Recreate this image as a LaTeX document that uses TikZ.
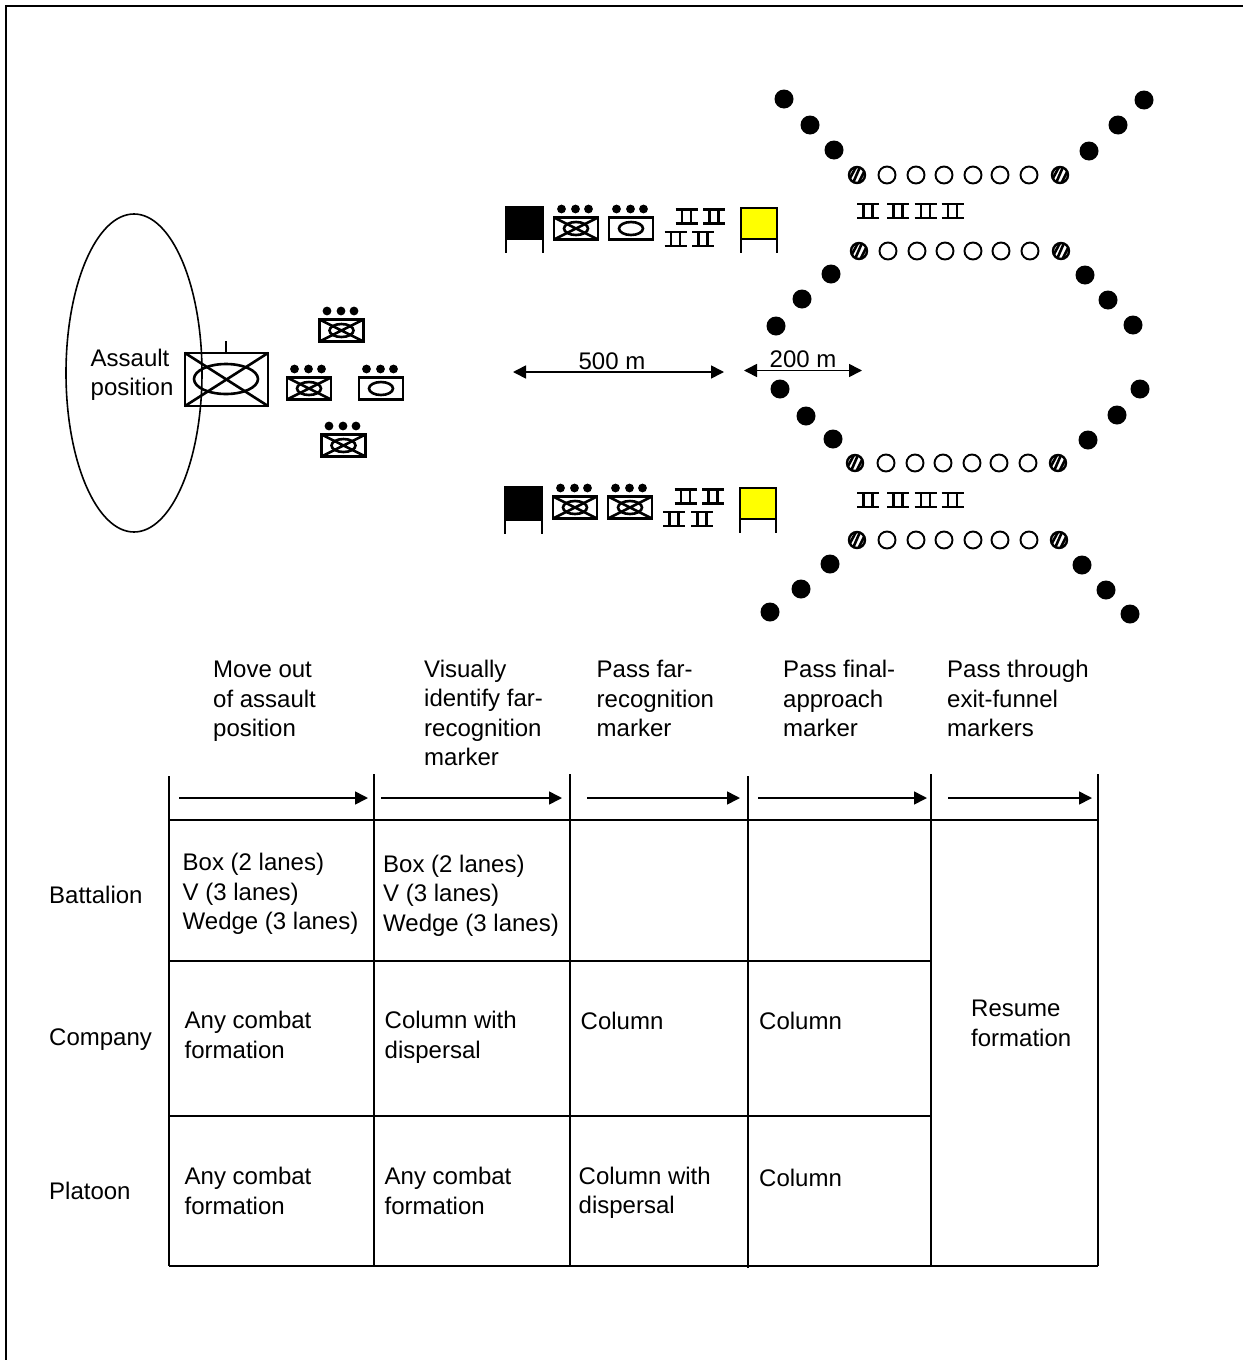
\documentclass[tikz,border=0pt]{standalone}
\usepackage{fontspec}
\setmainfont{Liberation Sans}
\usetikzlibrary{arrows.meta}
\definecolor{markeryellow}{RGB}{255,255,0}
\tikzset{
  lbl/.style={anchor=west,align=left,inner sep=0pt,font=\fontsize{24}{29.5}\selectfont},
  sym/.style={line width=2.6pt,draw=black},
  dim/.style={line width=1.6pt,{Triangle[length=13pt,width=13pt]}-{Triangle[length=13pt,width=13pt]}},
  flow/.style={line width=1.6pt,-{Triangle[length=13pt,width=13pt]}},
  rule/.style={line width=2.2pt,draw=black}
}
\newcommand{\lab}[4]{\node[lbl] (#1) at (#2,#3) {#4};}
\newcommand{\dotsrow}[2]{\foreach \dx in {-14.5,-0.5,12.5}{\fill (#1+\dx,#2-19.5) circle (4.4);}}
\newcommand{\tankx}[2]{%
  \draw[sym] (#1-22,#2-11) rectangle (#1+22,#2+11);
  \draw[sym] (#1-22,#2-11) -- (#1+22,#2+11) (#1-22,#2+11) -- (#1+22,#2-11);
  \draw[sym] (#1,#2) ellipse (12 and 6.5);
  \dotsrow{#1}{#2}}
\newcommand{\tankp}[2]{%
  \draw[sym] (#1-22,#2-11) rectangle (#1+22,#2+11);
  \draw[sym] (#1,#2) ellipse (12 and 6.5);
  \dotsrow{#1}{#2}}
\newcommand{\pii}[2]{%
  \draw[sym] (#1-11,#2-7) -- (#1+11,#2-7) (#1-11,#2+7) -- (#1+11,#2+7)
    (#1-4.5,#2-7) -- (#1-4.5,#2+7) (#1+4.5,#2-7) -- (#1+4.5,#2+7);}
\newcommand{\marker}[6]{%
  \draw[sym,fill=#1] (#2,#3) rectangle (#4,#5);
  \draw[sym] (#2,#5) -- (#2,#6) (#4,#5) -- (#4,#6);}
\newcommand{\hatched}[2]{%
  \begin{scope}
    \clip (#1,#2) circle (8.6);
    \draw[line width=2.6pt] (#1-8,#2+5) -- (#1-1,#2-8) (#1-4,#2+8) -- (#1+3,#2-8) (#1+1,#2+9) -- (#1+8,#2-5);
  \end{scope}
  \draw[line width=2.4pt] (#1,#2) circle (8);}
\newcommand{\ring}[2]{\draw[line width=1.9pt] (#1,#2) circle (8.5);}
\newcommand{\lanerow}[9]{%
  \hatched{#2}{#1}\ring{#3}{#1}\ring{#4}{#1}\ring{#5}{#1}\ring{#6}{#1}\ring{#7}{#1}\ring{#8}{#1}\hatched{#9}{#1}}
\begin{document}
\begin{tikzpicture}[x=1pt,y=-1pt]
\useasboundingbox (0,0) rectangle (1243,1360);
% frame
\coordinate (fa) at (6,1360); \coordinate (fb) at (6,6); \coordinate (fc) at (1243,6);
\draw[line width=1.8pt] (fa) -- (fb) -- (fc);
% assault position
\draw[line width=1.6pt] (134,373) ellipse (68 and 159);
\lab{assault}{90.5}{375}{Assault\\position}
\draw[sym] (185,353) rectangle (268,406);
\draw[sym] (185,353) -- (268,406) (185,406) -- (268,353);
\draw[sym] (226,379) ellipse (32 and 15);
\draw[sym] (226,341) -- (226,353);
\tankx{341.5}{330.5}
\tankx{309}{388.5}
\tankp{381}{388.5}
\tankx{343.5}{445.5}
% top column
\marker{black}{506}{207}{543}{239}{253}
\tankx{576}{228.5}
\tankp{631}{228.5}
\pii{686.5}{216.5}\pii{714}{216.5}\pii{675.5}{239}\pii{703}{239}
\marker{markeryellow}{741}{208}{777}{239}{253}
% bottom column
\marker{black}{505}{487}{542}{520}{534}
\tankx{575}{507.5}
\tankx{630}{507.5}
\pii{685.5}{496.5}\pii{713}{496.5}\pii{674}{519}\pii{702}{519}
\marker{markeryellow}{740}{488}{776}{519}{533}
% lanes
\lanerow{175}{857}{887}{916}{944}{973}{1000}{1029}{1060}
\lanerow{251}{859}{888}{917}{945}{973}{1001}{1030}{1061}
\lanerow{463}{855}{886}{915}{943}{972}{999}{1028}{1058}
\lanerow{540}{857}{887}{916}{944}{973}{1000}{1029}{1059}
\foreach \y in {211,500}{\pii{868}{\y}\pii{898}{\y}\pii{925.5}{\y}\pii{952.5}{\y}}
% funnel markers
\foreach \p in {(784,99),(810,125),(834,150),(1144,100),(1118,125),(1089,151),
  (831,274),(802,299),(776,326),(1085,275),(1108,300),(1133,325),
  (780,389),(806,416),(833,439),(1140,389),(1117,415),(1088,440),
  (830,564),(801,589),(770,612),(1082,565),(1106,590),(1130,614)}
  {\fill \p circle (9.5);}
% distances
\coordinate (d5a) at (513,372); \coordinate (d5b) at (724,372);
\draw[dim] (d5a) -- (d5b);
\node[lbl,anchor=center] (d500) at (612,361) {500 m};
\coordinate (d2a) at (744,370.5); \coordinate (d2b) at (862,370.5);
\draw[dim] (d2a) -- (d2b);
\node[lbl,anchor=center] (d200) at (803,359) {200 m};
% phase headings
\lab{h1}{213}{701.5}{Move out\\of assault\\position}
\lab{h2}{424}{713}{Visually\\identify far-\\recognition\\marker}
\lab{h3}{596.5}{698.5}{Pass far-\\recognition\\marker}
\lab{h4}{783}{698.5}{Pass final-\\approach\\marker}
\lab{h5}{947}{698.5}{Pass through\\exit-funnel\\markers}
% table grid
\coordinate (v1t) at (169,776); \coordinate (v1b) at (169,1266);
\coordinate (v2t) at (374,774); \coordinate (v2b) at (374,1266);
\coordinate (v3t) at (570,774); \coordinate (v3b) at (570,1266);
\coordinate (v4t) at (748,776); \coordinate (v4b) at (748,1268);
\coordinate (v5t) at (931,774); \coordinate (v5b) at (931,1266);
\coordinate (v6t) at (1098,774); \coordinate (v6b) at (1098,1266);
\coordinate (r1a) at (169,820); \coordinate (r1b) at (1098,820);
\coordinate (r2a) at (169,961); \coordinate (r2b) at (931,961);
\coordinate (r3a) at (169,1116); \coordinate (r3b) at (931,1116);
\coordinate (r4a) at (169,1266); \coordinate (r4b) at (1098,1266);
\foreach \n in {1,...,6}{\draw[rule] (v\n t) -- (v\n b);}
\foreach \n in {1,...,4}{\draw[rule] (r\n a) -- (r\n b);}
% flow arrows
\coordinate (a1a) at (179,798); \coordinate (a1b) at (368,798);
\coordinate (a2a) at (381,798); \coordinate (a2b) at (562,798);
\coordinate (a3a) at (587,798); \coordinate (a3b) at (740,798);
\coordinate (a4a) at (758,798); \coordinate (a4b) at (927,798);
\coordinate (a5a) at (948,798); \coordinate (a5b) at (1092,798);
\foreach \n in {1,...,5}{\draw[flow] (a\n a) -- (a\n b);}
% row labels
\lab{battalion}{49}{895}{Battalion}
\lab{company}{49}{1040}{Company}
\lab{platoon}{49}{1191}{Platoon}
% cells
\lab{c11}{182.5}{894}{Box (2 lanes)\\V (3 lanes)\\Wedge (3 lanes)}
\lab{c12}{383}{895.5}{Box (2 lanes)\\V (3 lanes)\\Wedge (3 lanes)}
\lab{c21}{184.5}{1035}{Any combat\\formation}
\lab{c22}{384.5}{1037.5}{Column with\\dispersal}
\lab{c23}{580.5}{1021}{Column}
\lab{c24}{759}{1021}{Column}
\lab{c31}{184.5}{1191}{Any combat\\formation}
\lab{c32}{384.5}{1191}{Any combat\\formation}
\lab{c33}{578.5}{1193}{Column with\\dispersal}
\lab{c34}{759}{1178}{Column}
\lab{c5}{971}{1023.5}{Resume\\formation}
\end{tikzpicture}
\end{document}
